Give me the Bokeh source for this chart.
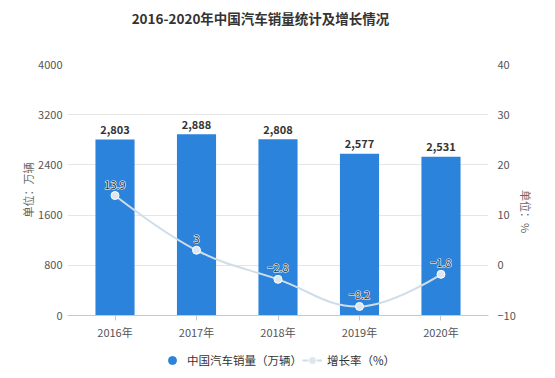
import math
from bokeh.plotting import figure
from bokeh.layouts import column
from bokeh.models import (Range1d, FactorRange, LinearAxis, FixedTicker, Legend, LegendItem,
                          ColumnDataSource, Label)
from bokeh.core.properties import value
from bokeh.embed import file_html
from bokeh.resources import INLINE

# ---- data ----
title_text = "2016-2020年中国汽车销量统计及增长情况"
categories = ["2016年", "2017年", "2018年", "2019年", "2020年"]
sales = [2803, 2888, 2808, 2577, 2531]          # 万辆
growth = [13.9, 3, -2.8, -8.2, -1.8]            # %
growth_labels = ["13.9", "3", "−2.8", "−8.2", "−1.8"]
left_ticks = [0, 800, 1600, 2400, 3200, 4000]
right_ticks = [-10, 0, 10, 20, 30, 40]
legend_labels = ["中国汽车销量（万辆）", "增长率（%）"]

FONT = "Noto Sans CJK SC"
BAR = "#2b83db"
LINE = "#cfdde9"
PT = "#dde7ef"
W = 555
NAN = float("nan")


def bare_fig(h):
    f = figure(width=W, height=h, x_range=Range1d(0, 1), y_range=Range1d(0, 1),
               x_axis_type=None, y_axis_type=None, output_backend="svg",
               toolbar_location=None, tools="", min_border=0, title=None)
    f.outline_line_color = None
    f.xgrid.visible = False
    f.ygrid.visible = False
    return f


# ---- title strip ----
tf = bare_fig(34)
tf.add_layout(Label(x=193, y=17, x_units="screen", y_units="screen", text=title_text,
                    text_align="center", text_baseline="middle", text_font=FONT,
                    text_font_size="13.5px", text_font_style="bold", text_color="#333333"))

# ---- main chart ----
p = figure(width=W, height=308, x_range=FactorRange(*categories, range_padding=0.083,
                                                    range_padding_units="absolute"),
           y_range=Range1d(left_ticks[0], left_ticks[-1]), title=None,
           output_backend="svg", toolbar_location=None, tools="",
           min_border_left=67, min_border_right=67, min_border_top=30, min_border_bottom=25)
p.outline_line_color = None
p.xgrid.grid_line_color = None
p.ygrid.grid_line_color = "#e6e6e6"
p.ygrid.ticker = FixedTicker(ticks=left_ticks)
p.extra_y_ranges = {"growth": Range1d(right_ticks[0], right_ticks[-1])}

xa = p.xaxis[0]
xa.axis_line_color = "#c8c8c8"
xa.major_tick_line_color = "#c8c8c8"
xa.major_tick_out = 5
xa.major_tick_in = 0
xa.minor_tick_line_color = None
xa.major_label_text_font = FONT
xa.major_label_text_font_size = "11px"
xa.major_label_text_color = "#555555"
xa.major_label_standoff = 3


def style_y(ax, label, label_standoff, axis_standoff):
    ax.axis_line_color = None
    ax.major_tick_line_color = None
    ax.major_tick_out = 0
    ax.major_tick_in = 0
    ax.minor_tick_line_color = None
    ax.minor_tick_out = 0
    ax.major_label_text_font = FONT
    ax.major_label_text_font_size = "11px"
    ax.major_label_text_color = "#555555"
    ax.major_label_standoff = label_standoff
    ax.axis_label = label
    ax.axis_label_text_font = FONT
    ax.axis_label_text_font_size = "11px"
    ax.axis_label_text_font_style = "normal"
    ax.axis_label_text_color = "#666666"
    ax.axis_label_standoff = axis_standoff


ya = p.yaxis[0]
ya.ticker = FixedTicker(ticks=left_ticks)
style_y(ya, "单位：万辆", 5, -1)
ra = LinearAxis(y_range_name="growth", ticker=FixedTicker(ticks=right_ticks))
style_y(ra, "单位：%", 9, 7)
try:
    ra.axis_label_orientation = -math.pi / 2
except Exception:
    pass
p.add_layout(ra, "right")

bar_src = ColumnDataSource(dict(x=categories, top=sales, lbl=[f"{v:,}" for v in sales]))
p.vbar(x="x", top="top", width=0.48, source=bar_src, fill_color=BAR, line_color=None)
p.text(x="x", y="top", text="lbl", source=bar_src, y_offset=-10,
       text_align="center", text_baseline="middle", text_font=value(FONT),
       text_font_size="11px", text_font_style="bold", text_color="#333333")

# smooth growth line: bezier segments, control points derived from the data
n = len(categories)
xs = [i + 0.5 for i in range(n)]
SX, SY = 81.5, 253.0 / 50.0
P = [(x * SX, y * SY) for x, y in zip(xs, growth)]
smooth = 0.4
cps = []
for i in range(n):
    px, py = P[i]
    if 0 < i < n - 1:
        vx = (P[i + 1][0] - P[i - 1][0]) * smooth
        vy = (P[i + 1][1] - P[i - 1][1]) * smooth
        d0 = ((px - P[i - 1][0]) ** 2 + (py - P[i - 1][1]) ** 2) ** 0.5
        d1 = ((px - P[i + 1][0]) ** 2 + (py - P[i + 1][1]) ** 2) ** 0.5
        s = d0 + d1
        d0, d1 = d0 / s, d1 / s
        cps.append(((px - vx * d0, py - vy * d0), (px + vx * d1, py + vy * d1)))
    else:
        cps.append(((px, py), (px, py)))
bz = dict(x0=[], y0=[], x1=[], y1=[], cx0=[], cy0=[], cx1=[], cy1=[])
for i in range(n - 1):
    bz["x0"].append(xs[i]); bz["y0"].append(growth[i])
    bz["x1"].append(xs[i + 1]); bz["y1"].append(growth[i + 1])
    bz["cx0"].append(cps[i][1][0] / SX); bz["cy0"].append(cps[i][1][1] / SY)
    bz["cx1"].append(cps[i + 1][0][0] / SX); bz["cy1"].append(cps[i + 1][0][1] / SY)
p.bezier(x0="x0", y0="y0", x1="x1", y1="y1", cx0="cx0", cy0="cy0", cx1="cx1", cy1="cy1",
         source=ColumnDataSource(bz), y_range_name="growth", line_color=LINE, line_width=2)
g_src = ColumnDataSource(dict(x=categories, y=growth, lbl=growth_labels))
p.scatter(x="x", y="y", source=g_src, y_range_name="growth", marker="circle", size=8,
          fill_color=PT, line_color="#ffffff", line_width=1)

txt_kw = dict(x="x", y="y", text="lbl", source=g_src, y_range_name="growth", y_offset=-11,
              text_align="center", text_baseline="middle", text_font=value(FONT),
              text_font_size="11px")
try:
    p.text(**txt_kw, text_color="white", text_outline_color="white")
except Exception:
    pass
p.text(**txt_kw, text_color="#333333")

# ---- legend strip (key renderers hold a single NaN point, so only the legend shows them) ----
lf = bare_fig(36)
k_bar = lf.scatter(x=[NAN], y=[NAN], marker="circle", size=10, fill_color=BAR, line_color=BAR)
k_line = lf.line(x=[NAN, NAN], y=[NAN, NAN], line_color=LINE, line_width=2)
k_pt = lf.scatter(x=[NAN], y=[NAN], marker="circle", size=8, fill_color=PT,
                  line_color="#ffffff")
legend = Legend(items=[LegendItem(label=legend_labels[0], renderers=[k_bar]),
                       LegendItem(label=legend_labels[1], renderers=[k_line, k_pt])],
                orientation="horizontal", location=(95, 8),
                label_text_font=FONT, label_text_font_size="11.5px", label_text_color="#333333",
                glyph_width=20, glyph_height=20, label_standoff=5, spacing=-6,
                padding=0, margin=0, border_line_alpha=0, background_fill_alpha=0)
lf.add_layout(legend, "center")

open("out.html", "w").write(file_html(column(tf, p, lf, spacing=0), INLINE))
